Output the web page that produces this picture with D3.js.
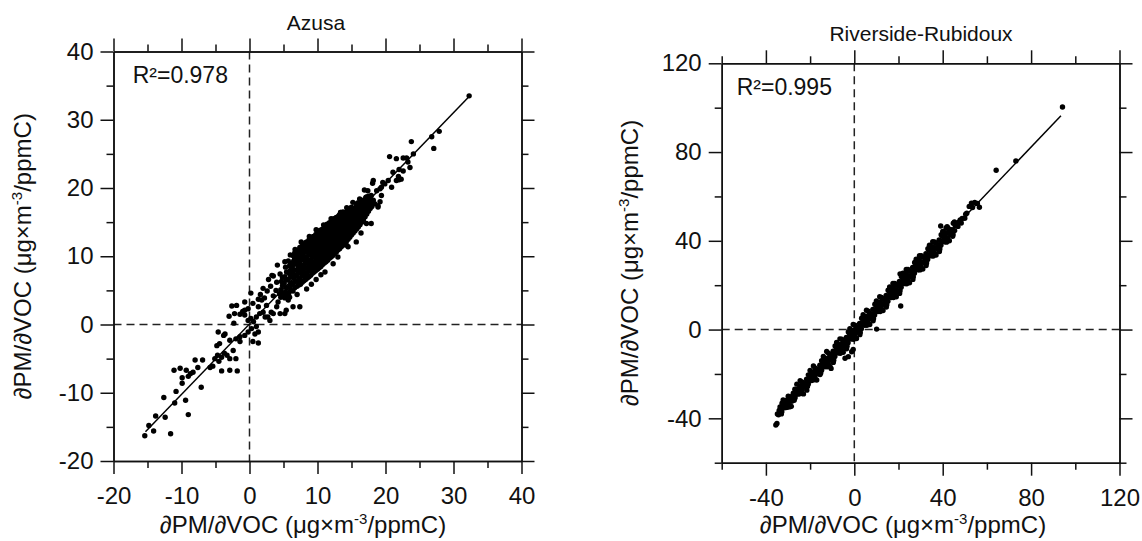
<!DOCTYPE html>
<html>
<head>
<meta charset="utf-8">
<script src="https://cdn.jsdelivr.net/npm/d3@7"></script>
<style>
  body { margin: 0; background: #fff; }
  svg text { font-family: "Liberation Sans", Arial, sans-serif; fill: #111; }
</style>
</head>
<body>
<svg id="chart" width="1142" height="541"></svg>
<script>
// ---- data ----
const panelTitles = ["Azusa", "Riverside-Rubidoux"];
const r2Labels = ["R\u00b2=0.978", "R\u00b2=0.995"];

const azusaMajor = [-20, -10, 0, 10, 20, 30, 40];
const azusaMinor = [-15, -5, 5, 15, 25, 35];
const rivMajor = [-40, 0, 40, 80, 120];
const rivMinor = [-60, -20, 20, 60, 100];

// fitted line end points [x, y]
const azusaFit = [[-15.3, -15.7], [32.3, 33.4]];
const rivFit = [[-35, -37.9], [93.5, 96.4]];

// Azusa scatter [x, y]
const azusaPoints = [
  // lower tail
  [-15.4,-16.3],[-14.1,-15.6],[-14.8,-14.8],[-11.6,-16.0],[-13.8,-13.4],[-12.4,-13.6],[-9.0,-13.2],[-12.6,-10.7],
  [-11.0,-11.5],[-9.4,-11.1],[-7.1,-9.2],[-10.8,-9.8],[-9.9,-8.6],[-9.0,-7.6],[-9.9,-7.8],[-11.1,-6.7],
  [-10.2,-6.4],[-9.3,-6.7],[-8.3,-7.0],[-8.7,-7.2],[-8.0,-5.2],[-6.9,-5.2],[-7.6,-6.3],[-5.8,-6.3],
  [-5.4,-6.1],[-5.1,-5.0],[-4.7,-4.5],[-4.5,-5.4],[-4.1,-4.8],[-3.7,-4.2],[-3.3,-4.5],[-2.9,-5.0],
  [-2.0,-5.0],[-4.1,-6.8],[-2.9,-6.7],[-1.8,-6.8],[-4.8,-3.1],[-4.4,-2.8],[-3.8,-1.6],[-4.6,-1.1],
  [-3.6,-1.4],[-2.9,-2.3],[-2.0,-2.1],[-1.4,-1.8],[-0.7,-1.6],[-0.2,-1.1],[0.5,-2.5],[1.3,-2.7],
  [0.8,-1.4],[-2.3,0.2],[-1.4,1.5],[-1.0,1.9],[-0.7,2.1],[-0.2,2.3],[0.2,4.6],[1.3,3.7],
  [0.2,0.9],[0.6,0.4],[1.0,-0.3],[-1.4,-2.5],[-2.4,-3.8],[-3.0,1.2],[-2.6,2.7],
  // around the origin
  [1.8,3.6],[2.5,2.8],[3.2,1.8],[4.0,2.6],[3.0,0.6],[2.3,1.1],[1.5,1.6],[4.5,1.6],
  [5.4,2.1],[5.7,3.6],[1.3,-1.1],[0.3,-0.6],[-0.2,0.6],[-0.7,1.4],[-2.2,1.6],[-1.9,2.8],
  [0.5,3.1],[1.3,2.6],[1.0,1.1],[2.0,1.8],[2.7,1.1],[3.5,1.6],[4.2,3.3],[-0.7,3.3],
  [1.6,4.4],[2.2,3.9],[2.6,4.9],[3.1,5.6],[3.5,4.2],[3.9,5.0],[2.8,6.6],[3.3,7.2],
  [4.0,6.2],[4.4,4.5],[2.0,5.3],
  // edges of the dense cloud
  [3.5,7.1],[4.1,8.7],[5.2,9.2],[5.8,7.7],[6.4,7.2],[7.1,8.0],[8.9,12.1],[10.1,12.6],
  [6.0,10.2],[6.7,11.0],[7.6,12.1],[8.8,12.9],[9.8,13.9],[10.9,14.6],[12.0,15.5],[13.4,16.4],
  [14.3,17.1],[15.2,17.9],[6.4,2.6],[7.4,2.6],[5.2,1.6],[5.9,4.0],[7.0,4.4],[8.4,5.2],
  [9.1,5.9],[9.8,6.6],[11.1,7.7],[10.5,7.3],[12.3,8.9],[13.0,9.9],[14.3,11.6],[14.5,11.4],
  [14.0,12.3],[14.5,13.3],[13.3,13.3],[15.7,12.1],[16.4,13.4],[17.2,14.8],[17.9,14.8],[18.9,17.2],
  [16.7,15.5],[18.4,17.7],[18.9,17.4],
  // dense cloud
  [4.6,4.0],[4.6,5.1],[4.7,6.3],[4.5,7.4],
  [5.2,3.9],[5.3,4.8],[5.1,6.0],[5.2,7.0],[5.3,8.4],
  [5.8,4.6],[5.9,5.5],[5.7,6.6],[5.8,7.5],[5.9,8.6],[5.7,9.3],
  [6.4,4.9],[6.3,5.9],[6.5,6.8],[6.4,7.6],[6.3,8.5],[6.5,9.3],[6.4,10.1],
  [7.0,5.6],[7.1,6.3],[6.9,7.1],[7.0,7.9],[7.1,8.6],[6.9,9.4],[7.0,10.2],[7.1,10.9],
  [7.5,5.9],[7.4,6.7],[7.6,7.5],[7.5,8.3],[7.4,9.1],[7.6,9.8],[7.5,10.5],[7.4,11.3],
  [8.0,6.4],[8.1,7.2],[7.9,7.9],[8.0,8.7],[8.1,9.4],[7.9,10.2],[8.0,10.9],[8.1,11.6],
  [8.5,6.8],[8.4,7.6],[8.6,8.3],[8.5,9.1],[8.4,9.9],[8.6,10.6],[8.5,11.4],[8.4,12.1],
  [9.0,7.2],[9.1,8.0],[8.9,8.8],[9.0,9.5],[9.1,10.3],[8.9,11.0],[9.0,11.8],[9.1,12.5],
  [9.5,7.7],[9.4,8.4],[9.6,9.2],[9.5,10.0],[9.4,10.8],[9.6,11.5],[9.5,12.3],[9.4,12.9],
  [10.0,8.1],[10.1,8.9],[9.9,9.7],[10.0,10.4],[10.1,11.2],[9.9,12.0],[10.0,12.7],[10.1,13.4],
  [10.5,8.5],[10.4,9.3],[10.6,10.1],[10.5,10.9],[10.4,11.7],[10.6,12.4],[10.5,13.2],[10.4,13.8],
  [11.0,9.0],[11.1,9.8],[10.9,10.6],[11.0,11.4],[11.1,12.1],[10.9,12.9],[11.0,13.6],[11.1,14.2],
  [11.5,9.4],[11.4,10.2],[11.6,11.0],[11.5,11.8],[11.4,12.6],[11.6,13.3],[11.5,14.0],[11.4,14.7],
  [12.0,9.9],[12.1,10.7],[11.9,11.5],[12.0,12.3],[12.1,13.0],[11.9,13.8],[12.0,14.5],[12.1,15.1],
  [12.5,10.4],[12.4,11.2],[12.6,12.0],[12.5,12.8],[12.4,13.5],[12.6,14.2],[12.5,14.9],[12.4,15.5],
  [13.0,10.9],[13.1,11.7],[12.9,12.5],[13.0,13.2],[13.1,14.0],[12.9,14.7],[13.0,15.4],[13.1,15.9],
  [13.5,11.4],[13.4,12.2],[13.6,13.0],[13.5,13.7],[13.4,14.5],[13.6,15.2],[13.5,15.8],[13.4,16.4],
  [14.0,11.9],[14.1,12.7],[13.9,13.5],[14.0,14.2],[14.1,14.9],[13.9,15.6],[14.0,16.3],
  [14.5,12.5],[14.4,13.3],[14.6,14.0],[14.5,14.7],[14.4,15.4],[14.6,16.1],[14.5,16.8],
  [15.0,13.1],[15.1,13.8],[14.9,14.6],[15.0,15.3],[15.1,16.0],[14.9,16.6],[15.0,17.2],
  [15.5,13.7],[15.4,14.4],[15.6,15.1],[15.5,15.8],[15.4,16.5],[15.6,17.1],
  [16.0,14.3],[16.1,15.0],[15.9,15.7],[16.0,16.4],[16.1,17.1],[15.9,17.8],
  [16.5,15.0],[16.4,15.7],[16.6,16.4],[16.5,17.1],[16.4,17.8],
  [17.0,15.8],[17.1,16.5],[16.9,17.2],[17.0,17.9],[17.1,18.6],
  [17.5,16.6],[17.4,17.3],[17.6,18.0],[17.5,18.8],
  [18.0,17.3],[18.1,18.1],[17.9,18.9],
  // dense cloud, in-between points
  [4.85,4.5],[4.85,5.7],[4.85,6.9],
  [5.45,4.3],[5.45,5.4],[5.45,6.5],[5.45,7.7],
  [6.05,5.0],[6.05,6.0],[6.05,7.0],[6.05,8.0],[6.05,9.0],
  [6.65,5.4],[6.65,6.3],[6.65,7.2],[6.65,8.0],[6.65,8.9],[6.65,9.7],[6.65,10.5],
  [7.25,5.8],[7.25,6.7],[7.25,7.5],[7.25,8.2],[7.25,9.0],[7.25,9.8],[7.25,10.6],
  [7.75,6.2],[7.75,7.1],[7.75,7.9],[7.75,8.7],[7.75,9.5],[7.75,10.2],[7.75,10.9],[7.75,11.5],
  [8.25,6.6],[8.25,7.5],[8.25,8.3],[8.25,9.1],[8.25,9.8],[8.25,10.6],[8.25,11.3],[8.25,12.0],
  [8.75,7.0],[8.75,7.9],[8.75,8.7],[8.75,9.4],[8.75,10.2],[8.75,11.0],[8.75,11.7],[8.75,12.4],
  [9.25,7.5],[9.25,8.3],[9.25,9.1],[9.25,9.9],[9.25,10.6],[9.25,11.4],[9.25,12.1],[9.25,12.8],
  [9.75,7.9],[9.75,8.7],[9.75,9.5],[9.75,10.3],[9.75,11.1],[9.75,11.8],[9.75,12.6],[9.75,13.2],
  [10.25,8.3],[10.25,9.1],[10.25,9.9],[10.25,10.7],[10.25,11.5],[10.25,12.2],[10.25,13.0],[10.25,13.6],
  [10.75,8.8],[10.75,9.6],[10.75,10.4],[10.75,11.2],[10.75,12.0],[10.75,12.7],[10.75,13.4],[10.75,14.0],
  [11.25,9.2],[11.25,10.0],[11.25,10.8],[11.25,11.6],[11.25,12.4],[11.25,13.1],[11.25,13.8],[11.25,14.5],
  [11.75,9.7],[11.75,10.5],[11.75,11.3],[11.75,12.0],[11.75,12.8],[11.75,13.5],[11.75,14.2],[11.75,14.9],
  [12.25,10.1],[12.25,10.9],[12.25,11.7],[12.25,12.5],[12.25,13.2],[12.25,14.0],[12.25,14.7],[12.25,15.3],
  [12.75,10.6],[12.75,11.4],[12.75,12.2],[12.75,13.0],[12.75,13.7],[12.75,14.4],[12.75,15.1],[12.75,15.7],
  [13.25,11.1],[13.25,11.9],[13.25,12.7],[13.25,13.4],[13.25,14.2],[13.25,14.9],[13.25,15.6],[13.25,16.1],
  [13.75,11.6],[13.75,12.4],[13.75,13.2],[13.75,14.0],[13.75,14.7],[13.75,15.4],[13.75,16.0],[13.75,16.5],
  [14.25,12.2],[14.25,13.0],[14.25,13.7],[14.25,14.4],[14.25,15.1],[14.25,15.8],[14.25,16.5],
  [14.75,12.8],[14.75,13.5],[14.75,14.3],[14.75,15.0],[14.75,15.7],[14.75,16.4],[14.75,17.0],
  [15.25,13.4],[15.25,14.1],[15.25,14.8],[15.25,15.5],[15.25,16.2],[15.25,16.9],
  [15.75,14.0],[15.75,14.7],[15.75,15.4],[15.75,16.1],[15.75,16.8],[15.75,17.5],
  [16.25,14.6],[16.25,15.3],[16.25,16.0],[16.25,16.7],[16.25,17.4],
  [16.75,15.4],[16.75,16.1],[16.75,16.8],[16.75,17.5],[16.75,18.2],
  [17.25,16.2],[17.25,16.9],[17.25,17.6],[17.25,18.3],
  [17.75,17.0],[17.75,17.7],[17.75,18.4],
  // upper tail
  [16.9,19.7],[17.4,19.6],[18.7,19.6],[18.2,21.1],[19.4,20.1],[19.9,20.6],[20.9,20.1],[19.2,19.9],
  [19.4,18.9],[18.2,18.2],[19.2,18.0],[16.2,18.4],[17.2,18.7],[18.1,20.7],[19.6,20.8],[20.4,21.1],
  [21.1,22.3],[21.9,21.7],[22.3,21.3],[21.6,21.1],[22.0,21.2],[20.6,24.6],[21.6,24.3],[22.6,24.4],
  [23.3,23.8],[23.6,23.0],[22.0,22.7],[22.6,22.5],[23.8,26.8],[24.1,25.0],[23.1,24.4],[26.8,27.5],
  [27.1,25.8],[27.9,28.3],[32.3,33.5]
];

// Riverside-Rubidoux scatter [x, y]
const rivPoints = [
  [-34.3,-38.4],[-34.0,-36.5],[-33.6,-34.9],[-32.8,-37.0],[-32.4,-35.2],[-32.1,-33.4],
  [-31.3,-35.2],[-30.9,-33.7],[-30.6,-31.8],[-29.8,-33.9],[-29.4,-32.2],[-29.1,-30.2],
  [-28.3,-32.3],[-27.9,-30.5],[-27.6,-28.7],[-26.8,-30.7],[-26.4,-29.0],[-26.1,-27.1],
  [-25.3,-29.1],[-24.9,-27.2],[-24.6,-25.4],[-23.8,-27.6],[-23.4,-25.9],[-23.1,-23.9],
  [-22.3,-26.0],[-21.9,-24.2],[-21.6,-22.4],[-20.8,-24.5],[-20.4,-22.7],[-20.1,-20.8],
  [-19.3,-23.0],[-18.9,-21.2],[-18.6,-19.2],[-17.8,-21.4],[-17.4,-19.6],[-17.1,-17.7],
  [-16.3,-19.9],[-15.9,-18.0],[-15.6,-16.1],[-14.8,-18.3],[-14.4,-16.5],[-14.1,-14.5],
  [-13.3,-16.8],[-12.9,-14.9],[-12.6,-13.0],[-11.8,-15.2],[-11.4,-13.3],[-11.1,-11.4],
  [-10.3,-13.7],[-9.9,-11.8],[-9.6,-9.8],[-8.8,-12.1],[-8.4,-10.2],[-8.1,-8.3],
  [-7.3,-10.6],[-6.9,-8.6],[-6.6,-6.7],[-5.8,-9.0],[-5.4,-7.1],[-5.1,-5.1],
  [-4.3,-7.5],[-3.9,-5.5],[-3.6,-3.6],[-2.8,-5.9],[-2.4,-3.9],[-2.1,-2.0],
  [-1.3,-4.3],[-0.9,-2.4],[-0.6,-0.4],[0.2,-2.8],[0.6,-0.8],[0.9,1.2],
  [1.7,-1.2],[2.1,0.8],[2.4,2.8],[3.2,0.4],[3.6,2.3],[3.9,4.4],
  [4.7,1.9],[5.1,3.9],[5.4,5.9],[6.2,3.5],[6.6,5.5],[6.9,7.5],
  [7.7,5.0],[8.1,7.0],[8.4,9.1],[9.2,6.6],[9.6,8.6],[9.9,10.7],
  [10.7,8.1],[11.1,10.2],[11.4,12.3],[12.2,9.7],[12.6,11.7],[12.9,13.8],
  [13.7,11.3],[14.1,13.3],[14.4,15.4],[15.2,12.8],[15.6,14.9],[15.9,17.0],
  [16.7,14.4],[17.1,16.4],[17.4,18.6],[18.2,16.0],[18.6,18.0],[18.9,20.1],
  [19.7,17.5],[20.1,19.6],[20.4,21.7],[21.2,19.1],[21.6,21.1],[21.9,23.3],
  [22.7,20.7],[23.1,22.7],[23.4,24.8],[24.2,22.2],[24.6,24.3],[24.9,26.4],
  [25.7,23.8],[26.1,25.8],[26.4,28.0],[27.2,25.4],[27.6,27.4],[27.9,29.6],
  [28.7,26.9],[29.1,28.9],[29.4,31.1],[30.2,28.5],[30.6,30.5],[30.9,32.7],
  [31.7,30.1],[32.1,32.1],[32.4,34.2],[33.2,31.6],[33.6,33.6],[33.9,35.8],
  [34.7,33.2],[35.1,35.2],[35.4,37.3],[36.2,34.8],[36.6,36.8],[36.9,38.9],
  [37.7,36.4],[38.1,38.3],[38.4,40.4],[39.2,38.0],[39.6,39.9],[39.9,42.0],
  [40.7,39.6],[41.1,41.5],[41.4,43.6],[42.3,41.3],[42.7,43.4],[43.0,45.2],
  [43.8,42.9],[44.2,45.0],[45.4,44.6],[45.7,46.8],[46.9,46.5],[47.2,48.4],
  [48.4,48.0],[48.8,50.1],[50.0,50.2],[50.4,52.0],
  // band edges
  [-33.0,-38.0],[-32.7,-33.2],[-30.2,-35.0],[-29.9,-30.0],[-27.2,-31.9],[-26.9,-26.9],
  [-24.2,-28.8],[-23.8,-23.6],[-21.2,-25.7],[-20.8,-20.4],[-18.2,-22.6],[-17.8,-17.3],
  [-15.2,-19.6],[-14.8,-14.0],[-12.3,-16.8],[-11.7,-10.6],[-9.3,-13.8],[-8.7,-7.4],
  [-6.3,-10.7],[-5.7,-4.3],[-3.3,-7.5],[-2.7,-1.1],[-0.3,-4.4],[0.3,2.0],
  [2.7,-1.3],[3.3,5.1],[5.7,1.9],[6.3,8.3],[8.7,5.0],[9.3,11.4],
  [11.7,8.1],[12.3,14.5],[14.7,11.2],[15.3,17.7],[17.7,14.4],[18.3,20.8],
  [20.7,17.5],[21.3,23.9],[23.7,20.6],[24.3,27.1],[26.7,23.8],[27.3,30.2],
  [29.7,26.9],[30.3,33.3],[32.7,30.0],[33.3,36.4],[35.7,33.1],[36.3,39.5],
  [38.7,36.3],[39.3,42.7],[41.7,39.4],[42.3,45.8],[44.7,42.9],[45.3,48.5],
  // ragged outer edge
  [-28.5,-34.6],[-26.0,-24.6],[-23.0,-29.0],[-20.0,-18.4],[-17.0,-22.7],[-14.0,-12.1],
  [-11.0,-16.6],[-8.0,-5.8],[-5.0,-10.2],[-2.0,0.4],[1.0,-4.0],[4.0,6.7],
  [7.0,2.3],[10.0,12.9],[13.0,8.6],[16.0,19.2],[19.0,14.8],[22.0,25.4],
  [25.0,21.1],[28.0,31.7],[31.0,27.3],[34.0,38.0],[37.0,33.6],[40.0,44.2],
  [43.0,40.0],[-24.5,-23.0],[-21.5,-27.3],[-18.5,-16.4],[-15.5,-20.3],[-12.5,-9.9],
  [-9.5,-14.8],[-6.5,-4.2],[-3.5,-8.7],[-0.5,2.3],[2.5,-2.3],[5.5,8.7],
  [8.5,4.0],[11.5,14.8],[14.5,10.2],[17.5,20.8],[20.5,16.3],[23.5,27.1],
  [26.5,22.6],[29.5,33.3],[32.5,28.9],[35.5,39.6],[38.5,35.2],[41.5,45.8],
  [44.5,42.0],
  // band fill
  [-31.5,-35.1],[-31.5,-33.1],[-25.5,-28.8],[-25.5,-26.8],[-19.5,-22.5],[-19.5,-20.5],
  [-13.5,-16.3],[-13.5,-14.3],[-7.5,-10.0],[-7.5,-8.0],[-1.5,-3.8],[-1.5,-1.8],
  [4.5,2.5],[4.5,4.5],[10.5,8.8],[10.5,10.8],[16.5,15.0],[16.5,17.0],
  [22.5,21.3],[22.5,23.3],[28.5,27.5],[28.5,29.5],[34.5,33.8],[34.5,35.8],
  [40.5,40.0],[40.5,42.0],
  // outliers
  [-35.5,-43.0],[-35.0,-42.3],[-34.8,-38.0],[-32.2,-31.7],[-29.1,-34.8],[-10.5,-17.5],
  [-4.2,-12.9],[-2.7,-12.2],[-1.2,-10.0],[-0.5,-9.0],[10.1,0.2],[21.0,10.6],
  [23.7,26.9],[20.7,25.1],[39.1,46.7],[42.0,46.4],[44.8,47.9],[47.9,49.4],
  [50.9,52.4],[52.0,55.5],[53.0,57.0],[54.5,57.3],[55.7,56.8],[56.6,55.1],
  [53.5,55.0],[64.2,71.8],[73.1,76.0],[94.2,100.3]
];

// ---- drawing ----
const svg = d3.select("#chart");
const ink = "#111";

const panels = [
  { title: panelTitles[0], r2: r2Labels[0], points: azusaPoints, fit: azusaFit,
    domain: [-20, 40], major: azusaMajor, minor: azusaMinor,
    left: 113.5, right: 521.5, top: 51.5, bottom: 461,
    titleX: 316, titleY: 30, r2X: 132.7, r2Y: 83.3, yLabX: 31, xLabX: 303 },
  { title: panelTitles[1], r2: r2Labels[1], points: rivPoints, fit: rivFit,
    domain: [-60, 120], major: rivMajor, minor: rivMinor,
    left: 721.7, right: 1119.5, top: 63.3, bottom: 462.7,
    titleX: 921, titleY: 41, r2X: 736.7, r2Y: 95, yLabX: 638, xLabX: 903 }
];

function styleAxis(g) {
  g.selectAll("path, line").attr("stroke", ink).attr("stroke-width", 1.5);
  g.attr("font-size", 24).attr("font-family", null);
  g.selectAll("text").attr("fill", ink);
}

function addAxis(g, axisFn, scale, pos, vals, size, labels, pad) {
  const ax = axisFn(scale).tickValues(vals).tickSize(size).tickSizeOuter(0)
    .tickPadding(pad || 3)
    .tickFormat(labels ? (d => String(d)) : (() => ""));
  g.append("g").attr("transform", pos).call(ax).call(styleAxis);
}

function axisTitle(t) {
  t.append("tspan").text("\u2202PM/\u2202VOC (\u03bcg\u00d7m");
  t.append("tspan").attr("dy", -9).attr("font-size", 15).text("-3");
  t.append("tspan").attr("dy", 9).text("/ppmC)");
}

panels.forEach(p => {
  const x = d3.scaleLinear().domain(p.domain).range([p.left, p.right]);
  const y = d3.scaleLinear().domain(p.domain).range([p.bottom, p.top]);
  const g = svg.append("g");

  // dashed zero lines
  g.append("line").attr("x1", x(0)).attr("x2", x(0)).attr("y1", p.top).attr("y2", p.bottom)
    .attr("stroke", "#222").attr("stroke-width", 1.5).attr("stroke-dasharray", "8,5");
  g.append("line").attr("x1", p.left).attr("x2", p.right).attr("y1", y(0)).attr("y2", y(0))
    .attr("stroke", "#222").attr("stroke-width", 1.5).attr("stroke-dasharray", "8,5");

  // axes on all four sides, ticks pointing out
  addAxis(g, d3.axisBottom, x, `translate(0,${p.bottom})`, p.major, 13, true, 13);
  addAxis(g, d3.axisBottom, x, `translate(0,${p.bottom})`, p.minor, 7, false);
  addAxis(g, d3.axisTop, x, `translate(0,${p.top})`, p.major, 13, false);
  addAxis(g, d3.axisTop, x, `translate(0,${p.top})`, p.minor, 7, false);
  addAxis(g, d3.axisLeft, y, `translate(${p.left},0)`, p.major, 13, true, 7);
  addAxis(g, d3.axisLeft, y, `translate(${p.left},0)`, p.minor, 7, false);
  addAxis(g, d3.axisRight, y, `translate(${p.right},0)`, p.major, 13, false);
  addAxis(g, d3.axisRight, y, `translate(${p.right},0)`, p.minor, 7, false);

  // scatter
  g.append("g").selectAll("circle")
    .data(p.points)
    .join("circle")
    .attr("cx", d => x(d[0]))
    .attr("cy", d => y(d[1]))
    .attr("r", 2.7)
    .attr("fill", "#000");

  // regression line
  const line = d3.line().x(d => x(d[0])).y(d => y(d[1]));
  g.append("path").datum(p.fit).attr("d", line)
    .attr("fill", "none").attr("stroke", "#000").attr("stroke-width", 1.5);

  // texts
  g.append("text").attr("x", p.titleX).attr("y", p.titleY)
    .attr("text-anchor", "middle").attr("font-size", 21).text(p.title);
  g.append("text").attr("x", p.r2X).attr("y", p.r2Y)
    .attr("font-size", 23).text(p.r2);
  g.append("text").attr("x", p.xLabX).attr("y", 533)
    .attr("text-anchor", "middle").attr("font-size", 24).call(axisTitle);
  g.append("text")
    .attr("transform", `translate(${p.yLabX},${(p.top + p.bottom) / 2}) rotate(-90)`)
    .attr("text-anchor", "middle").attr("font-size", 24).call(axisTitle);
});
</script>
</body>
</html>
